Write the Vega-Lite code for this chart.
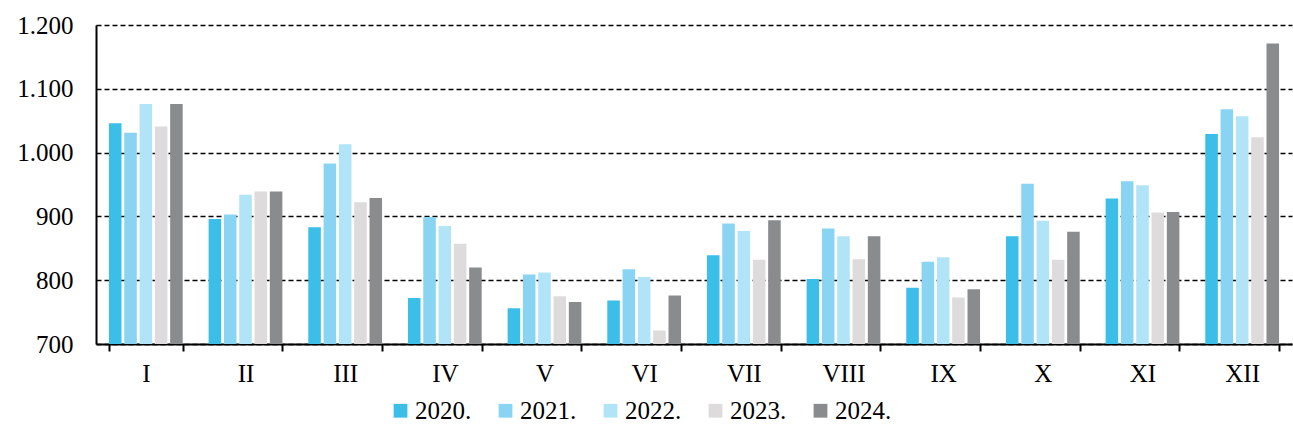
{
  "$schema": "https://vega.github.io/schema/vega-lite/v6.json",
  "width": 1196,
  "height": 319,
  "autosize": {"type": "none"},
  "padding": {"left": 96, "top": 25, "right": 1, "bottom": 89},
  "background": "white",
  "config": {
    "view": {"stroke": null},
    "font": "Liberation Serif"
  },
  "data": {
    "values": [
      {"month": "I", "year": "2020.", "value": 1046},
      {"month": "I", "year": "2021.", "value": 1031},
      {"month": "I", "year": "2022.", "value": 1076},
      {"month": "I", "year": "2023.", "value": 1041},
      {"month": "I", "year": "2024.", "value": 1076},
      {"month": "II", "year": "2020.", "value": 896},
      {"month": "II", "year": "2021.", "value": 903},
      {"month": "II", "year": "2022.", "value": 934},
      {"month": "II", "year": "2023.", "value": 939},
      {"month": "II", "year": "2024.", "value": 939},
      {"month": "III", "year": "2020.", "value": 883},
      {"month": "III", "year": "2021.", "value": 983},
      {"month": "III", "year": "2022.", "value": 1013},
      {"month": "III", "year": "2023.", "value": 922},
      {"month": "III", "year": "2024.", "value": 929},
      {"month": "IV", "year": "2020.", "value": 772},
      {"month": "IV", "year": "2021.", "value": 899},
      {"month": "IV", "year": "2022.", "value": 885},
      {"month": "IV", "year": "2023.", "value": 857},
      {"month": "IV", "year": "2024.", "value": 820},
      {"month": "V", "year": "2020.", "value": 756},
      {"month": "V", "year": "2021.", "value": 809},
      {"month": "V", "year": "2022.", "value": 812},
      {"month": "V", "year": "2023.", "value": 775},
      {"month": "V", "year": "2024.", "value": 766},
      {"month": "VI", "year": "2020.", "value": 768},
      {"month": "VI", "year": "2021.", "value": 817},
      {"month": "VI", "year": "2022.", "value": 805},
      {"month": "VI", "year": "2023.", "value": 721},
      {"month": "VI", "year": "2024.", "value": 776},
      {"month": "VII", "year": "2020.", "value": 839},
      {"month": "VII", "year": "2021.", "value": 889},
      {"month": "VII", "year": "2022.", "value": 877},
      {"month": "VII", "year": "2023.", "value": 832},
      {"month": "VII", "year": "2024.", "value": 894},
      {"month": "VIII", "year": "2020.", "value": 802},
      {"month": "VIII", "year": "2021.", "value": 881},
      {"month": "VIII", "year": "2022.", "value": 869},
      {"month": "VIII", "year": "2023.", "value": 833},
      {"month": "VIII", "year": "2024.", "value": 869},
      {"month": "IX", "year": "2020.", "value": 788},
      {"month": "IX", "year": "2021.", "value": 829},
      {"month": "IX", "year": "2022.", "value": 836},
      {"month": "IX", "year": "2023.", "value": 773},
      {"month": "IX", "year": "2024.", "value": 786},
      {"month": "X", "year": "2020.", "value": 869},
      {"month": "X", "year": "2021.", "value": 951},
      {"month": "X", "year": "2022.", "value": 893},
      {"month": "X", "year": "2023.", "value": 832},
      {"month": "X", "year": "2024.", "value": 876},
      {"month": "XI", "year": "2020.", "value": 928},
      {"month": "XI", "year": "2021.", "value": 955},
      {"month": "XI", "year": "2022.", "value": 949},
      {"month": "XI", "year": "2023.", "value": 906},
      {"month": "XI", "year": "2024.", "value": 907},
      {"month": "XII", "year": "2020.", "value": 1029},
      {"month": "XII", "year": "2021.", "value": 1068},
      {"month": "XII", "year": "2022.", "value": 1057},
      {"month": "XII", "year": "2023.", "value": 1024},
      {"month": "XII", "year": "2024.", "value": 1171}
    ]
  },
  "mark": {"type": "bar", "clip": true},
  "encoding": {
    "x": {
      "field": "month",
      "type": "nominal",
      "sort": ["I", "II", "III", "IV", "V", "VI", "VII", "VIII", "IX", "X", "XI", "XII"],
      "scale": {"paddingInner": 0.26, "paddingOuter": 0.13},
      "axis": {
        "title": null,
        "labelAngle": 0,
        "tickBand": "extent",
        "domainColor": "black",
        "domainWidth": 2,
        "tickColor": "black",
        "tickWidth": 2,
        "tickSize": 7,
        "labelPadding": 10,
        "labelFontSize": 25,
        "labelColor": "black",
        "labelFont": "Liberation Serif",
        "grid": false
      }
    },
    "xOffset": {
      "field": "year",
      "type": "nominal",
      "scale": {"paddingInner": 0.18}
    },
    "y": {
      "field": "value",
      "type": "quantitative",
      "scale": {"domain": [700, 1200], "zero": false, "nice": false},
      "axis": {
        "title": null,
        "values": [700, 800, 900, 1000, 1100, 1200],
        "labelExpr": "replace(format(datum.value, ','), ',', '.')",
        "domainColor": "black",
        "domainWidth": 2,
        "ticks": false,
        "labelPadding": 23,
        "labelFontSize": 25,
        "labelColor": "black",
        "labelFont": "Liberation Serif",
        "grid": true,
        "gridColor": "black",
        "gridDash": [5, 3],
        "gridWidth": 1.6
      }
    },
    "color": {
      "field": "year",
      "type": "nominal",
      "scale": {
        "domain": ["2020.", "2021.", "2022.", "2023.", "2024."],
        "range": ["#3BBEE8", "#89D4F2", "#B2E4F7", "#DDDBDC", "#8A8B8D"]
      },
      "legend": {
        "title": null,
        "orient": "none",
        "direction": "horizontal",
        "legendX": 292,
        "legendY": 373,
        "padding": 0,
        "symbolType": "square",
        "symbolSize": 190,
        "symbolStrokeWidth": 0,
        "symbolOpacity": 1,
        "labelFontSize": 25,
        "labelColor": "black",
        "labelFont": "Liberation Serif",
        "labelOffset": 2,
        "columnPadding": 21,
        "gridAlign": "all"
      }
    }
  }
}
